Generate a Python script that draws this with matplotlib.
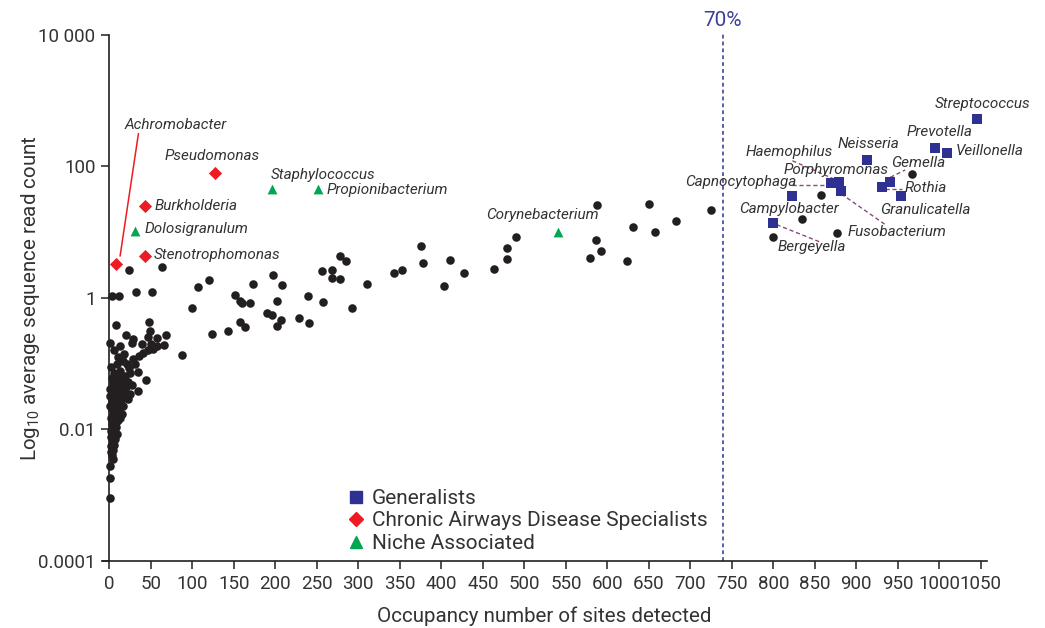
import matplotlib
matplotlib.use("Agg")
import matplotlib.pyplot as plt
from matplotlib.lines import Line2D
from matplotlib.ticker import FixedLocator, NullLocator

plt.rcParams['font.family'] = ['Roboto', 'DejaVu Sans']
plt.rcParams['mathtext.fontset'] = 'custom'
plt.rcParams['mathtext.rm'] = 'Roboto'

# ---------------- data ----------------
# Generalists (squares)
gen_names = ['Streptococcus', 'Prevotella', 'Veillonella', 'Neisseria', 'Haemophilus',
             'Porphyromonas', 'Fusobacterium', 'Capnocytophaga', 'Gemella', 'Rothia',
             'Granulicatella', 'Campylobacter']
gen_sites = [1046, 995, 1009, 913, 879, 869, 882, 822, 941, 931, 954, 800]
gen_reads = [522, 189, 161, 127, 57, 55, 42, 36, 57, 48, 35, 13.6]

# Chronic airways disease specialists (diamonds)
cad_names = ['Achromobacter', 'Pseudomonas', 'Burkholderia', 'Stenotrophomonas']
cad_sites = [8, 127, 43, 43]
cad_reads = [3.26, 80, 25, 4.4]

# Niche associated (triangles)
niche_names = ['Dolosigranulum', 'Staphylococcus', 'Propionibacterium', 'Corynebacterium']
niche_sites = [31, 196, 251, 541]
niche_reads = [10.5, 44.8, 44.8, 10.1]

# Other genera (black dots)
dot_sites = [967, 857, 835, 800, 877, 725,
             587, 586, 592, 579, 624, 631, 650, 657, 683,
             24, 64, 3, 12, 32, 51, 107, 120, 100, 124, 143, 151, 157, 160, 169, 158, 163,
             173, 197, 208, 202, 190, 196, 207, 202, 228, 241, 239, 258, 256, 268, 278, 285,
             268, 278, 292, 310, 343, 353, 375, 378, 403, 411, 427, 464, 479, 479, 490, 88,
             8, 48, 49, 20, 28, 27, 1, 13, 39, 47, 58, 68, 50, 57, 66, 41, 47, 53, 11, 16,
             29, 21, 31, 2, 13, 24, 3, 11, 17, 44, 1, 7, 13, 20, 35, 23, 7, 1, 17, 1, 5, 9,
             3, 7, 5, 5, 3, 3, 1, 1, 1,
             4, 9, 15, 22, 27, 5, 11, 17, 25, 3, 10, 14, 20,
             3, 8, 12, 15, 2, 6, 10, 13, 4, 8,
             2, 6, 9, 2, 7, 4, 6, 2, 5, 2, 4,
             6, 18, 9, 36, 25, 34, 19, 6, 14]
dot_reads = [77.6, 36.8, 16.0, 8.5, 9.7, 22.0,
             25.9, 7.6, 5.08, 4.11, 3.63, 11.8, 26.4, 9.9, 14.6,
             2.64, 2.9, 1.07, 1.07, 1.23, 1.22, 1.47, 1.88, 0.70, 0.283, 0.31, 1.1, 0.90, 0.84,
             0.83, 0.426, 0.365,
             1.65, 2.24, 1.56, 0.90, 0.58, 0.54, 0.457, 0.374, 0.49, 0.42, 1.07, 0.87, 2.58,
             2.67, 4.37, 3.58,
             2.02, 1.93, 0.70, 1.63, 2.38, 2.64, 6.05, 3.38, 1.51, 3.8, 2.43, 2.77, 3.93, 5.72,
             8.4, 0.134,
             0.388, 0.435, 0.314, 0.273, 0.237, 0.208, 0.204, 0.185, 0.197, 0.254, 0.243, 0.273,
             0.197, 0.185, 0.192, 0.144, 0.161, 0.169, 0.126, 0.11,
             0.116, 0.098, 0.098, 0.0897, 0.077, 0.085, 0.061, 0.0556, 0.0597, 0.0562, 0.0406,
             0.043, 0.043, 0.044, 0.0378, 0.0286, 0.030, 0.032, 0.0226, 0.0226, 0.0169, 0.0133,
             0.0119, 0.0105, 0.00836, 0.0066, 0.0052, 0.0041, 0.00275, 0.00182, 0.0009,
             0.050, 0.048, 0.050, 0.052, 0.047, 0.036, 0.035, 0.037, 0.034, 0.027, 0.026, 0.028,
             0.033,
             0.020, 0.021, 0.019, 0.017, 0.015, 0.016, 0.014, 0.015, 0.012, 0.011,
             0.0095, 0.009, 0.0085, 0.0075, 0.0072, 0.0062, 0.0058, 0.0056, 0.0048, 0.0045,
             0.0035,
             0.16, 0.14, 0.10, 0.13, 0.071, 0.075, 0.065, 0.072, 0.062]

x_ticks = list(range(0, 1051, 50))
y_ticks = [1e-4, 1e-2, 1, 1e2, 1e4]
y_ticklabels = ['0.0001', '0.01', '1', '100', '10 000']
threshold_sites = 739
threshold_label = '70%'
legend_labels = ['Generalists', 'Chronic Airways Disease Specialists', 'Niche Associated']

# ---------------- layout / style ----------------
label_pos = {  # (sites, reads) of the left/centre of each italic label
    'Achromobacter': (18, 434), 'Pseudomonas': (66, 146), 'Burkholderia': (54, 25.2),
    'Dolosigranulum': (42, 11.3), 'Stenotrophomonas': (53, 4.52),
    'Staphylococcus': (194, 75), 'Propionibacterium': (262, 44.3),
    'Corynebacterium': (454, 18.4),
    'Streptococcus': (995, 906), 'Prevotella': (960, 339), 'Veillonella': (1020, 174),
    'Neisseria': (878, 223), 'Haemophilus': (767, 168), 'Gemella': (942, 114),
    'Porphyromonas': (812, 89), 'Capnocytophaga': (694, 58.6), 'Rothia': (958, 47.5),
    'Granulicatella': (929, 21.9), 'Campylobacter': (759, 22.8),
    'Fusobacterium': (890, 10.1), 'Bergeyella': (805, 5.98),
}
connectors = [  # ((x0, y0), (x1, y1)) dashed leader lines
    ((823, 122), (876, 62)),
    ((822, 52.8), (868, 52.8)),
    ((882, 38.1), (935, 13.0)),
    ((941, 68.2), (959, 88.5)),
    ((935, 45.4), (955, 45.4)),
    ((804, 13.0), (856, 7.1)),
]
achromo_line = ((13, 4.37), (35, 313))

BLUE = '#2e3192'
RED = '#ed1c24'
GREEN = '#00a651'
BLACK = '#231f20'
TXT = '#333333'

fig = plt.figure(figsize=(10.45, 6.28), dpi=100)
ax = fig.add_axes([102.7 / 1045, 67.3 / 628, (986.6 - 102.7) / 1045, (560.7 - 35) / 628])

ax.set_yscale('log')
ax.set_xlim(-8, 1057)
ax.set_ylim(1e-4, 1e4)

ax.scatter(dot_sites, dot_reads, s=38, color=BLACK, zorder=3, linewidths=0)
ax.scatter(gen_sites, gen_reads, s=60, marker='s', color=BLUE, zorder=4, linewidths=0)
ax.scatter(cad_sites, cad_reads, s=45, marker='D', color=RED, zorder=4, linewidths=0)
ax.scatter(niche_sites, niche_reads, s=50, marker='^', color=GREEN, zorder=4, linewidths=0)

ax.axvline(threshold_sites, color=BLUE, lw=1.1, ls=(0, (2.5, 2)), zorder=2, ymax=1.005, clip_on=False)
ax.text(threshold_sites, 1.028, threshold_label, transform=ax.get_xaxis_transform(),
        ha='center', va='center', fontsize=15, color='#3b3f9a')

for (x0, y0), (x1, y1) in connectors:
    ax.plot([x0, x1], [y0, y1], color='#8b4a7c', lw=1, ls=(0, (3, 2)), zorder=2)
ax.plot([achromo_line[0][0], achromo_line[1][0]], [achromo_line[0][1], achromo_line[1][1]],
        color=RED, lw=1.1, zorder=2)

for name, (lx, ly) in label_pos.items():
    ax.text(lx, ly, name, fontsize=11, style='italic', color=TXT, ha='left', va='center')

# axes styling
for s in ['top', 'right']:
    ax.spines[s].set_visible(False)
ax.spines['left'].set_position(('data', 0))
for s in ['left', 'bottom']:
    ax.spines[s].set_linewidth(1.2)
    ax.spines[s].set_color(BLACK)
ax.xaxis.set_major_locator(FixedLocator(x_ticks))
ax.set_xticklabels([str(t) for t in x_ticks])
ax.yaxis.set_major_locator(FixedLocator(y_ticks))
ax.yaxis.set_minor_locator(NullLocator())
ax.set_yticklabels(y_ticklabels)
ax.tick_params(axis='both', direction='out', length=6, width=1.1, color=BLACK,
               labelsize=13.5, labelcolor=TXT, pad=4)

ax.set_xlabel('Occupancy number of sites detected', fontsize=14.8, color=TXT, labelpad=10)
ax.set_ylabel(r'Log$_{\mathregular{10}}$ average sequence read count', fontsize=14.8,
              color=TXT, labelpad=-3)

handles = [
    Line2D([], [], marker='s', color=BLUE, ls='none', markersize=9),
    Line2D([], [], marker='D', color=RED, ls='none', markersize=7.5),
    Line2D([], [], marker='^', color=GREEN, ls='none', markersize=9),
]
ax.legend(handles, legend_labels, loc='upper left', bbox_to_anchor=(0.2655, 0.152),
          frameon=False, fontsize=15, handlelength=1.0, handletextpad=0.25,
          labelspacing=0.16, borderaxespad=0, labelcolor=TXT)

fig.savefig('out.png', dpi=100)
